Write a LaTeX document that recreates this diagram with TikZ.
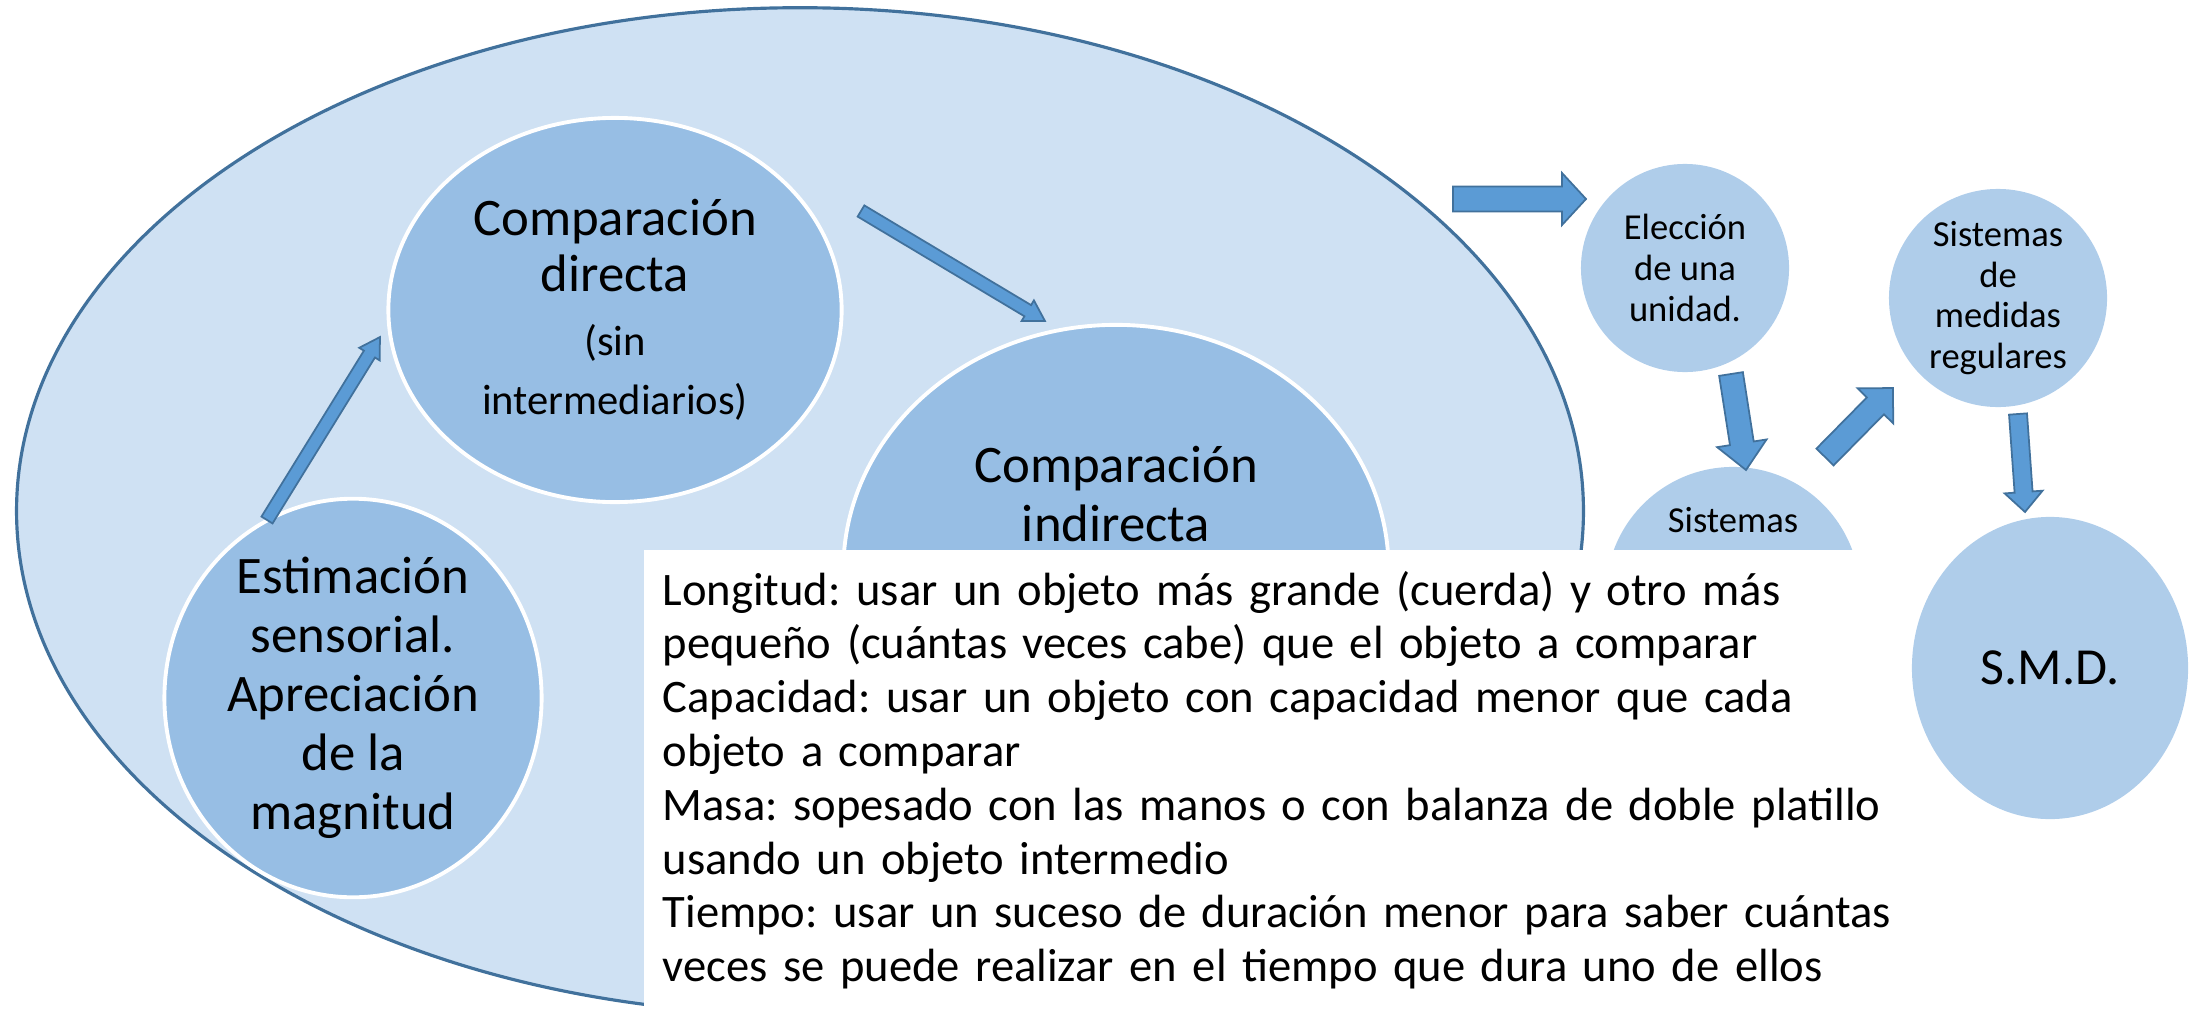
\documentclass[tikz,border=0pt]{standalone}
\usepackage{fontspec}
\setmainfont{Carlito}
\frenchspacing
\usetikzlibrary{shapes,shapes.geometric,calc}
\definecolor{outerfill}{HTML}{CFE1F3}
\definecolor{outerline}{HTML}{41719C}
\definecolor{innerfill}{HTML}{97BEE4}
\definecolor{sysfill}{HTML}{AFCDEA}
\definecolor{arrowfill}{HTML}{5B9BD5}
\newcommand{\pxu}{0.2845pt}
\newcommand{\subfont}{\fontsize{12.1}{16.8}\selectfont}
\tikzset{
  basenode/.style = {align=center, inner sep=0pt, text centered},
  big_n/.style = {basenode, ellipse, fill=outerfill, draw=outerline, line width=0.9pt},
  cmp_n/.style = {basenode, ellipse, fill=innerfill, draw=white, line width=1.1pt, font=\fontsize{15}{16.8}\selectfont},
  cmp_t/.style = {basenode, font=\fontsize{15}{17}\selectfont},
  sys_n/.style = {basenode, circle, fill=sysfill, font=\fontsize{10.4}{11.6}\selectfont},
  sys_e/.style = {basenode, ellipse, fill=sysfill, font=\fontsize{14.8}{16}\selectfont},
  sys_t/.style = {basenode, font=\fontsize{10.4}{11.6}\selectfont},
  box_n/.style = {inner sep=0pt, fill=white, anchor=north west},
  txt_n/.style = {align=left, inner sep=0pt, text width=13.5cm, anchor=base west, font=\fontsize{13.25}{15.3}\selectfont},
  arr_b/.style = {fill=arrowfill, draw=outerline, line width=0.5pt}
}
\newcommand{\blockarrow}[5]{%
  \draw [arr_b] let \p1 = ($(#2)-(#1)$), \n1 = {veclen(\x1,\y1)}, \n2 = {atan2(\y1,\x1)} in
    [shift={(#1)}, rotate=\n2]
    (0pt,{-#3*\pxu}) -- ({\n1-#5*\pxu},{-#3*\pxu}) -- ({\n1-#5*\pxu},{-#4*\pxu})
    -- ({\n1+0pt},0pt) -- ({\n1-#5*\pxu},{#4*\pxu}) -- ({\n1-#5*\pxu},{#3*\pxu})
    -- (0pt,{#3*\pxu}) -- cycle;
}
\begin{document}
\begin{tikzpicture}[x=0.01cm, y=-0.01cm]
\useasboundingbox (0,0) rectangle (2191,1015);
\node [big_n, minimum width=15.66cm, minimum height=10.06cm] (outer) at (800,511) {};
\node [cmp_n, minimum width=4.53cm, minimum height=3.84cm] (dir) at (615,310)
	{Comparación\\[-0.9pt]directa\\[1.4pt]\subfont(sin\\\subfont intermediarios)};
\node [cmp_n, minimum width=5.45cm, minimum height=4.9cm] (ind) at (1116,570) {};
\node [cmp_t] (indt) at (1116,494) {Comparación\\indirecta};
\node [cmp_n, minimum width=3.77cm, minimum height=3.54cm] (est) at (353,698)
	{Estimación\\sensorial.\\Apreciación\\de la\\magnitud};
\node [sys_n, minimum size=2.08cm] (ele) at (1685,268) {Elección\\de una\\unidad.};
\node [sys_n, minimum size=2.18cm] (reg) at (1998,298) {Sistemas\\de\\medidas\\regulares};
\node [sys_n, minimum size=2.54cm] (sis) at (1733,594) {};
\node [sys_t] (sist) at (1733,520) {Sistemas};
\node [sys_e, minimum width=2.76cm, minimum height=3.02cm] (smd) at (2050,668) {S.M.D.};

\coordinate (a1s) at (267,520); \coordinate (a1e) at (380,337);
\coordinate (a2s) at (861,211); \coordinate (a2e) at (1045,321);
\coordinate (a3s) at (1453,199); \coordinate (a3e) at (1586,199);
\coordinate (a4s) at (1731,374); \coordinate (a4e) at (1746,470);
\coordinate (a5s) at (1825,457); \coordinate (a5e) at (1893,388);
\coordinate (a6s) at (2018,414); \coordinate (a6e) at (2025,512);
\blockarrow{a1s}{a1e}{6.5}{12}{20}
\blockarrow{a2s}{a2e}{6.5}{12}{20}
\blockarrow{a3s}{a3e}{12.5}{26}{24}
\blockarrow{a4s}{a4e}{12}{25}{27}
\blockarrow{a5s}{a5e}{12}{25}{25}
\blockarrow{a6s}{a6e}{9}{19}{20}

\node [box_n, minimum width=12.57cm, minimum height=4.7cm] (box) at (643,549) {};
\node [txt_n] (txt) at (662,605) {Longitud: usar un objeto más grande (cuerda) y otro más\\
	pequeño (cuántas veces cabe) que el objeto a comparar\\
	Capacidad: usar un objeto con capacidad menor que cada\\
	objeto a comparar\\
	Masa: sopesado con las manos o con balanza de doble platillo\\
	usando un objeto intermedio\\
	Tiempo: usar un suceso de duración menor para saber cuántas\\
	veces se puede realizar en el tiempo que dura uno de ellos};
\end{tikzpicture}
\end{document}
